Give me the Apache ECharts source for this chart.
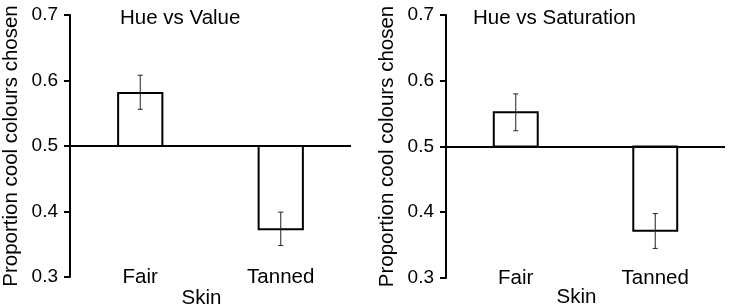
<!DOCTYPE html>
<html>
<head>
<meta charset="utf-8">
<script src="https://cdn.jsdelivr.net/npm/echarts@6/dist/echarts.min.js"></script>
<style>html,body{margin:0;padding:0;background:#fff}#c{width:731px;height:307px}</style>
</head>
<body>
<div id="c"></div>
<script>
const categories = ['Fair', 'Tanned'];
const panelTitles = ['Hue vs Value', 'Hue vs Saturation'];
const valueMeans = [0.581, 0.373];
const valueErrLow = [0.556, 0.348];
const valueErrHigh = [0.608, 0.399];
const satMeans = [0.552, 0.372];
const satErrLow = [0.524, 0.345];
const satErrHigh = [0.580, 0.398];
const baseline = 0.5;
const yMin = 0.3, yMax = 0.7, yInterval = 0.1;
const yName = 'Proportion cool colours chosen';
const xName = 'Skin';

const FONT = '"Liberation Sans", Arial, sans-serif';
const FS = 20.5;
const TFS = 19;

const chart = echarts.init(document.getElementById('c'), null, {renderer: 'canvas'});

function barRender(params, api) {
  const x = api.value(0);
  const v = api.value(1);
  const p0 = api.coord([x, baseline]);
  const p1 = api.coord([x, v]);
  const w = api.size([1, 0])[0] * 0.315;
  const top = Math.min(p0[1], p1[1]);
  const h = Math.abs(p0[1] - p1[1]);
  return {
    type: 'rect',
    shape: {x: p0[0] - w / 2, y: top, width: w, height: h},
    style: {fill: '#fff', stroke: '#000', lineWidth: 2}
  };
}
function errRender(params, api) {
  const x = api.value(0);
  const lo = api.coord([x, api.value(1)]);
  const hi = api.coord([x, api.value(2)]);
  const cap = 2.5;
  const st = {stroke: '#222', lineWidth: 1};
  return {
    type: 'group',
    children: [
      {type: 'line', shape: {x1: lo[0], y1: lo[1], x2: hi[0], y2: hi[1]}, style: st},
      {type: 'line', shape: {x1: lo[0] - cap, y1: lo[1], x2: lo[0] + cap, y2: lo[1]}, style: st},
      {type: 'line', shape: {x1: hi[0] - cap, y1: hi[1], x2: hi[0] + cap, y2: hi[1]}, style: st}
    ]
  };
}

function yAxisCfg(idx) {
  return {
    type: 'value', gridIndex: idx, min: yMin, max: yMax, interval: yInterval,
    name: yName, nameLocation: 'middle', nameGap: 48, nameMoveOverlap: false,
    nameTextStyle: {fontSize: FS, color: '#000', fontFamily: FONT},
    axisLine: {show: true, onZero: false, lineStyle: {color: '#000', width: 2}},
    axisTick: {show: true, length: 6, lineStyle: {color: '#000', width: 2}},
    axisLabel: {fontSize: TFS, color: '#000', fontFamily: FONT, margin: 12,
      formatter: v => v.toFixed(1)},
    splitLine: {show: false}
  };
}
function xAxisCfg(idx) {
  return {
    type: 'category', gridIndex: idx, data: categories,
    name: xName, nameLocation: 'middle', nameGap: idx === 0 ? 11 : 9, nameMoveOverlap: false,
    nameTextStyle: {fontSize: FS, color: '#000', fontFamily: FONT, padding: [0, 18, 0, 0], verticalAlign: 'top'},
    axisLine: {show: false}, axisTick: {show: false},
    axisLabel: {fontSize: FS, color: '#000', fontFamily: FONT, margin: -10}
  };
}
function panelSeries(idx, means, lo, hi) {
  return [
    {
      type: 'custom', xAxisIndex: idx, yAxisIndex: idx,
      renderItem: barRender,
      data: categories.map((c, i) => [i, means[i]]),
      markLine: {
        silent: true, symbol: 'none', label: {show: false},
        lineStyle: {color: '#000', width: 2, type: 'solid'},
        data: [{yAxis: baseline}]
      },
      z: 3
    },
    {
      type: 'custom', xAxisIndex: idx, yAxisIndex: idx,
      renderItem: errRender,
      data: categories.map((c, i) => [i, lo[i], hi[i]]),
      z: 4
    }
  ];
}

chart.setOption({
  backgroundColor: '#fff',
  animation: false,
  title: [
    {text: panelTitles[0], left: 115, top: 3, textStyle: {fontSize: FS, fontWeight: 'normal', color: '#000', fontFamily: FONT}},
    {text: panelTitles[1], left: 468, top: 3, textStyle: {fontSize: FS, fontWeight: 'normal', color: '#000', fontFamily: FONT}}
  ],
  grid: [
    {left: 70, right: 380, top: 15, bottom: 30, containLabel: false, outerBoundsMode: 'none'},
    {left: 446, right: 6, top: 15, bottom: 29, containLabel: false, outerBoundsMode: 'none'}
  ],
  xAxis: [xAxisCfg(0), xAxisCfg(1)],
  yAxis: [yAxisCfg(0), yAxisCfg(1)],
  series: [
    ...panelSeries(0, valueMeans, valueErrLow, valueErrHigh),
    ...panelSeries(1, satMeans, satErrLow, satErrHigh)
  ]
});
</script>
</body>
</html>
